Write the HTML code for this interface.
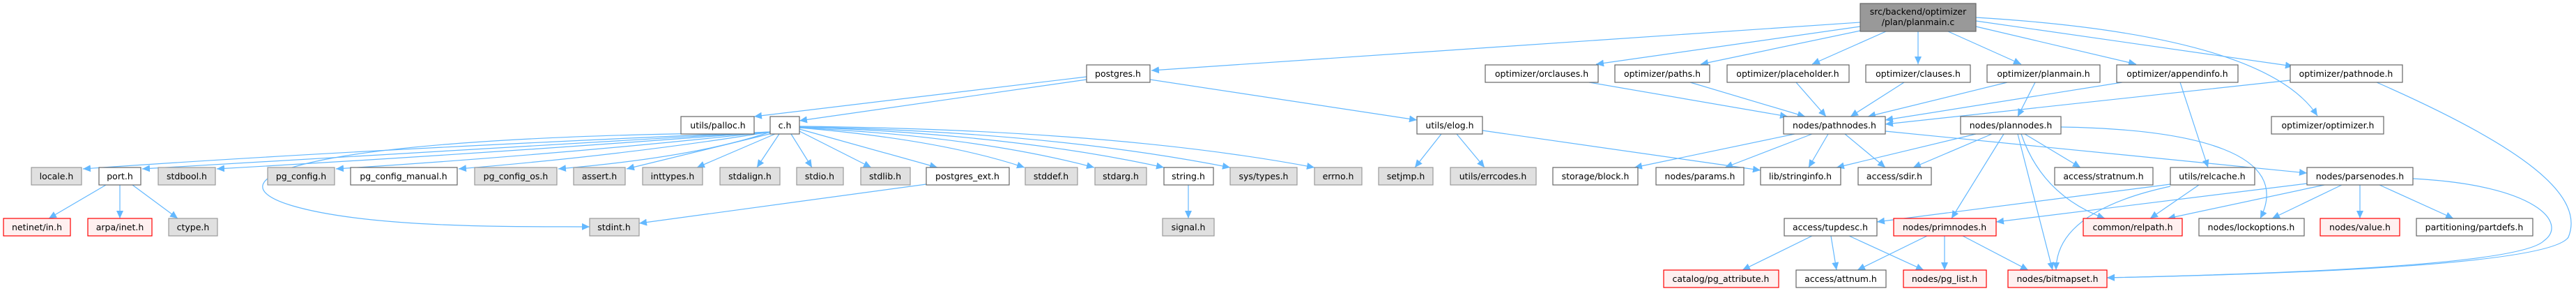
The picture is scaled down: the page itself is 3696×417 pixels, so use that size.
<!DOCTYPE html>
<html><head><meta charset="utf-8"><style>
html,body{margin:0;padding:0;background:#fff}
svg{display:block}
text{font-family:"DejaVu Sans","Liberation Sans",sans-serif;font-size:12.5px;fill:#000}
.e{fill:none;stroke:#63b8ff;stroke-width:1.2;marker-end:url(#a)}
.w{fill:#fff;stroke:#666;stroke-width:1.2}
.g{fill:#e0e0e0;stroke:#999;stroke-width:1.2}
.r{fill:#fff0f0;stroke:#f00;stroke-width:1.2}
.t{fill:#999;stroke:#666;stroke-width:1.2}
</style></head><body>
<svg width="3696" height="417" viewBox="0 0 3696 417" xmlns="http://www.w3.org/2000/svg">
<defs><marker id="a" markerUnits="userSpaceOnUse" markerWidth="12" markerHeight="10" refX="11" refY="5" orient="auto"><path d="M0,0 L11,5 L0,10 z" fill="#63b8ff"/></marker></defs>
<g>
<path class="e" d="M2669,32 L1652,101"/>
<path class="e" d="M2669,38 L2290,92"/>
<path class="e" d="M2669,44 L2440,92"/>
<path class="e" d="M2706,45 L2600,92"/>
<path class="e" d="M2752,45 L2752,92"/>
<path class="e" d="M2795,45 L2900,92"/>
<path class="e" d="M2835,38 L3065,92"/>
<path class="e" d="M2835,30 L3290,95"/>
<path class="e" d="M2835,25 Q3250,50 3325,166"/>
<path class="e" d="M2280,118 L2565,167"/>
<path class="e" d="M2425,118 L2590,167"/>
<path class="e" d="M2577,118 L2620,167"/>
<path class="e" d="M2732,118 L2655,167"/>
<path class="e" d="M2880,118 L2680,167"/>
<path class="e" d="M2920,118 L2895,167"/>
<path class="e" d="M3045,118 L2705,172"/>
<path class="e" d="M3286,115 L2705,178"/>
<path class="e" d="M3128,118 L3168,240"/>
<path class="e" d="M3410,118 C3620,210 3710,280 3685,340 Q3655,385 3023,398"/>
<path class="e" d="M1559,110 L1082,167"/>
<path class="e" d="M1559,114 L1147,173"/>
<path class="e" d="M1650,114 L2033,172"/>
<path class="e" d="M1105,189 Q500,215 119,242"/>
<path class="e" d="M1105,189 Q600,218 204,242"/>
<path class="e" d="M1105,189 Q700,220 311,242"/>
<path class="e" d="M1105,189 Q800,222 482,242"/>
<path class="e" d="M1105,189 Q900,222 658,242"/>
<path class="e" d="M1105,189 Q1000,225 801,242"/>
<path class="e" d="M1108,191 L899,242"/>
<path class="e" d="M1112,192 L1000,240"/>
<path class="e" d="M1118,192 L1086,240"/>
<path class="e" d="M1135,192 L1165,240"/>
<path class="e" d="M1147,188 L1250,240"/>
<path class="e" d="M1147,185 L1345,240"/>
<path class="e" d="M1147,183 Q1350,200 1470,240"/>
<path class="e" d="M1147,183 Q1400,195 1570,240"/>
<path class="e" d="M1147,182 Q1450,192 1670,240"/>
<path class="e" d="M1147,182 Q1500,188 1765,240"/>
<path class="e" d="M1147,181 Q1600,186 1886,240"/>
<path class="e" d="M1105,190 C400,195 300,260 420,295 S780,324 846,325"/>
<path class="e" d="M152,265 L70,313"/>
<path class="e" d="M172,265 L172,313"/>
<path class="e" d="M190,265 L255,313"/>
<path class="e" d="M1329,264 L917,320"/>
<path class="e" d="M1705,265 L1705,313"/>
<path class="e" d="M2068,192 L2030,240"/>
<path class="e" d="M2090,192 L2130,240"/>
<path class="e" d="M2127,187 L2526,244"/>
<path class="e" d="M2575,192 L2345,240"/>
<path class="e" d="M2600,192 L2475,240"/>
<path class="e" d="M2623,192 L2595,240"/>
<path class="e" d="M2647,192 L2705,240"/>
<path class="e" d="M2705,188 L3310,248"/>
<path class="e" d="M2835,192 L2635,240"/>
<path class="e" d="M2858,192 L2745,240"/>
<path class="e" d="M2905,192 L2985,240"/>
<path class="e" d="M2875,192 L2800,313"/>
<path class="e" d="M2895,192 L2945,387"/>
<path class="e" d="M2900,192 Q2930,280 3020,313"/>
<path class="e" d="M2957,182 C3150,185 3290,220 3243,313"/>
<path class="e" d="M3114,264 L2693,318"/>
<path class="e" d="M3155,265 L3085,313"/>
<path class="e" d="M3114,267 C2960,300 2950,360 2950,387"/>
<path class="e" d="M3310,263 L2864,318"/>
<path class="e" d="M3335,265 L3110,313"/>
<path class="e" d="M3360,265 L3260,313"/>
<path class="e" d="M3386,265 L3386,313"/>
<path class="e" d="M3414,265 L3520,313"/>
<path class="e" d="M3462,256 C3640,265 3685,320 3650,345 Q3610,385 3023,398"/>
<path class="e" d="M2600,338 L2500,387"/>
<path class="e" d="M2627,338 L2635,387"/>
<path class="e" d="M2653,338 L2760,387"/>
<path class="e" d="M2765,338 L2665,387"/>
<path class="e" d="M2790,338 L2790,387"/>
<path class="e" d="M2816,338 L2910,387"/>
</g>
<g text-anchor="middle">
<rect class="t" x="2669" y="5" width="166" height="40"/><text x="2752" y="21">src/backend/optimizer</text><text x="2752" y="36">/plan/planmain.c</text>
<rect class="w" x="1559" y="93" width="91" height="25"/><text x="1604" y="110">postgres.h</text>
<rect class="w" x="2131" y="93" width="162" height="25"/><text x="2212" y="110">optimizer/orclauses.h</text>
<rect class="w" x="2317" y="93" width="136" height="25"/><text x="2385" y="110">optimizer/paths.h</text>
<rect class="w" x="2478" y="93" width="175" height="25"/><text x="2565" y="110">optimizer/placeholder.h</text>
<rect class="w" x="2677" y="93" width="150" height="25"/><text x="2752" y="110">optimizer/clauses.h</text>
<rect class="w" x="2851" y="93" width="162" height="25"/><text x="2932" y="110">optimizer/planmain.h</text>
<rect class="w" x="3037" y="93" width="174" height="25"/><text x="3124" y="110">optimizer/appendinfo.h</text>
<rect class="w" x="3286" y="93" width="161" height="25"/><text x="3366" y="110">optimizer/pathnode.h</text>
<rect class="w" x="977" y="167" width="105" height="25"/><text x="1030" y="184">utils/palloc.h</text>
<rect class="w" x="1105" y="167" width="42" height="25"/><text x="1126" y="184">c.h</text>
<rect class="w" x="2033" y="167" width="94" height="25"/><text x="2080" y="184">utils/elog.h</text>
<rect class="w" x="2559" y="167" width="146" height="25"/><text x="2632" y="184">nodes/pathnodes.h</text>
<rect class="w" x="2813" y="167" width="144" height="25"/><text x="2885" y="184">nodes/plannodes.h</text>
<rect class="w" x="3259" y="167" width="161" height="25"/><text x="3340" y="184">optimizer/optimizer.h</text>
<rect class="g" x="45" y="240" width="72" height="25"/><text x="81" y="257">locale.h</text>
<rect class="w" x="142" y="240" width="60" height="25"/><text x="172" y="257">port.h</text>
<rect class="g" x="227" y="240" width="82" height="25"/><text x="268" y="257">stdbool.h</text>
<rect class="g" x="384" y="240" width="96" height="25"/><text x="432" y="257">pg_config.h</text>
<rect class="w" x="503" y="240" width="153" height="25"/><text x="579" y="257">pg_config_manual.h</text>
<rect class="g" x="681" y="240" width="118" height="25"/><text x="740" y="257">pg_config_os.h</text>
<rect class="g" x="823" y="240" width="74" height="25"/><text x="860" y="257">assert.h</text>
<rect class="g" x="922" y="240" width="86" height="25"/><text x="965" y="257">inttypes.h</text>
<rect class="g" x="1033" y="240" width="86" height="25"/><text x="1076" y="257">stdalign.h</text>
<rect class="g" x="1143" y="240" width="67" height="25"/><text x="1176" y="257">stdio.h</text>
<rect class="g" x="1235" y="240" width="71" height="25"/><text x="1270" y="257">stdlib.h</text>
<rect class="w" x="1329" y="240" width="119" height="25"/><text x="1388" y="257">postgres_ext.h</text>
<rect class="g" x="1471" y="240" width="75" height="25"/><text x="1508" y="257">stddef.h</text>
<rect class="g" x="1571" y="240" width="74" height="25"/><text x="1608" y="257">stdarg.h</text>
<rect class="w" x="1670" y="240" width="71" height="25"/><text x="1705" y="257">string.h</text>
<rect class="g" x="1765" y="240" width="96" height="25"/><text x="1813" y="257">sys/types.h</text>
<rect class="g" x="1886" y="240" width="68" height="25"/><text x="1920" y="257">errno.h</text>
<rect class="g" x="1978" y="240" width="78" height="25"/><text x="2017" y="257">setjmp.h</text>
<rect class="g" x="2081" y="240" width="123" height="25"/><text x="2142" y="257">utils/errcodes.h</text>
<rect class="w" x="2228" y="240" width="122" height="25"/><text x="2289" y="257">storage/block.h</text>
<rect class="w" x="2376" y="240" width="126" height="25"/><text x="2439" y="257">nodes/params.h</text>
<rect class="w" x="2526" y="240" width="115" height="25"/><text x="2583" y="257">lib/stringinfo.h</text>
<rect class="w" x="2666" y="240" width="105" height="25"/><text x="2718" y="257">access/sdir.h</text>
<rect class="w" x="2948" y="240" width="141" height="25"/><text x="3018" y="257">access/stratnum.h</text>
<rect class="w" x="3114" y="240" width="121" height="25"/><text x="3174" y="257">utils/relcache.h</text>
<rect class="w" x="3310" y="240" width="152" height="25"/><text x="3386" y="257">nodes/parsenodes.h</text>
<rect class="r" x="5" y="313" width="96" height="25"/><text x="53" y="330">netinet/in.h</text>
<rect class="r" x="126" y="313" width="92" height="25"/><text x="172" y="330">arpa/inet.h</text>
<rect class="g" x="242" y="313" width="70" height="25"/><text x="277" y="330">ctype.h</text>
<rect class="g" x="846" y="313" width="71" height="25"/><text x="881" y="330">stdint.h</text>
<rect class="g" x="1668" y="313" width="74" height="25"/><text x="1705" y="330">signal.h</text>
<rect class="w" x="2560" y="313" width="133" height="25"/><text x="2626" y="330">access/tupdesc.h</text>
<rect class="r" x="2717" y="313" width="147" height="25"/><text x="2790" y="330">nodes/primnodes.h</text>
<rect class="r" x="2989" y="313" width="142" height="25"/><text x="3060" y="330">common/relpath.h</text>
<rect class="w" x="3155" y="313" width="151" height="25"/><text x="3230" y="330">nodes/lockoptions.h</text>
<rect class="r" x="3329" y="313" width="114" height="25"/><text x="3386" y="330">nodes/value.h</text>
<rect class="w" x="3467" y="313" width="167" height="25"/><text x="3550" y="330">partitioning/partdefs.h</text>
<rect class="r" x="2387" y="387" width="165" height="25"/><text x="2469" y="404">catalog/pg_attribute.h</text>
<rect class="w" x="2577" y="387" width="129" height="25"/><text x="2641" y="404">access/attnum.h</text>
<rect class="r" x="2731" y="387" width="119" height="25"/><text x="2790" y="404">nodes/pg_list.h</text>
<rect class="r" x="2881" y="387" width="142" height="25"/><text x="2952" y="404">nodes/bitmapset.h</text>
</g>
</svg>
</body></html>
